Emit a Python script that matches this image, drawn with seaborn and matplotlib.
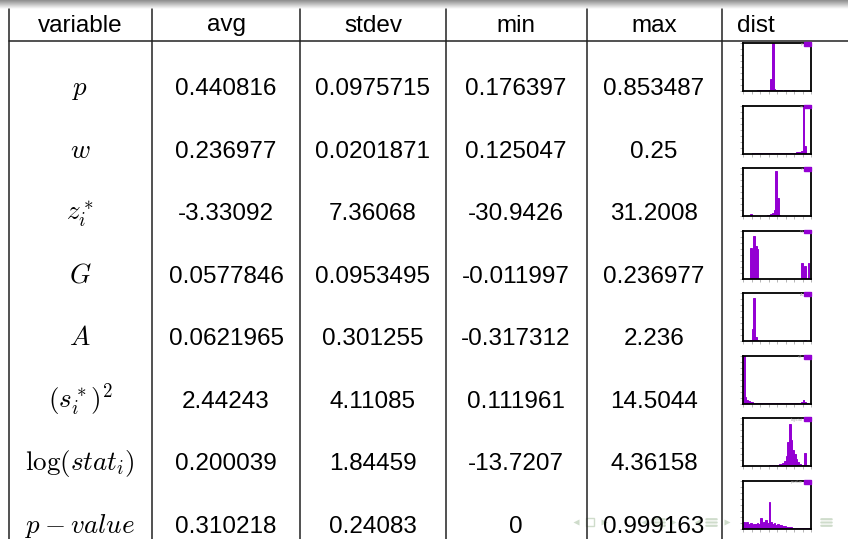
import numpy as np
import pandas as pd
import seaborn as sns
import matplotlib.pyplot as plt
from matplotlib.patches import Patch

sns.set_theme(style='white')
plt.rcParams['font.family'] = ['Liberation Sans', 'DejaVu Sans']
plt.rcParams['mathtext.fontset'] = 'cm'

# table contents
headers = ['variable', 'avg', 'stdev', 'min', 'max', 'dist']
variables = [r'$p$', r'$w$', r'$z_i^*$', r'$G$', r'$A$', r'$(s_i^*)^2$',
             r'$\log(stat_i)$', r'$p-value$']
short_names = ['p', 'w', 'z', 'G', 'A', 's2', 'logstat', 'pvalue']
avg = ['0.440816', '0.236977', '-3.33092', '0.0577846', '0.0621965',
       '2.44243', '0.200039', '0.310218']
stdev = ['0.0975715', '0.0201871', '7.36068', '0.0953495', '0.301255',
         '4.11085', '1.84459', '0.24083']
vmin = ['0.176397', '0.125047', '-30.9426', '-0.011997', '-0.317312',
        '0.111961', '-13.7207', '0']
vmax = ['0.853487', '0.25', '31.2008', '0.236977', '2.236',
        '14.5044', '4.36158', '0.999163']

# histogram bin heights (40 bins each, relative to the plot height)
hist_p = [0, 0, 0, 0, 0, 0, 1, 1, 2, 3, 3, 2, 2, 3, 2, 3, 25, 100, 4, 3,
          3, 2, 2, 1, 2, 1, 2, 1, 1, 2, 1, 1, 1, 0, 1, 0, 0, 0, 0, 0]
hist_w = [0, 0, 0, 0, 0, 1, 1, 1, 1, 1, 1, 1, 1, 1, 1, 1, 1, 1, 1, 1,
          1, 1, 1, 1, 1, 1, 1, 2, 2, 2, 2, 3, 3, 4, 5, 100, 15, 0, 0, 0]
hist_z = [0, 0, 0, 0, 5, 1, 1, 1, 1, 1, 1, 1, 1, 1, 3, 3, 4, 6, 12, 95,
          38, 3, 1, 1, 0, 0, 0, 0, 0, 0, 0, 0, 0, 0, 0, 0, 0, 0, 0, 0]
hist_G = [0, 0, 0, 0, 65, 60, 90, 68, 62, 0, 0, 0, 0, 0, 0, 0, 0, 0, 0, 0,
          0, 0, 0, 0, 0, 0, 0, 0, 0, 0, 0, 0, 0, 0, 32, 17, 27, 0, 32, 0]
hist_A = [0, 0, 0, 1, 3, 25, 90, 8, 2, 1, 1, 1, 0, 0, 0, 0, 0, 0, 0, 0,
          0, 0, 0, 0, 0, 0, 0, 0, 0, 0, 0, 0, 0, 0, 0, 1, 2, 0, 0, 0]
hist_s2 = [100, 15, 8, 5, 4, 3, 2, 2, 1, 1, 1, 1, 1, 1, 1, 1, 1, 1, 1, 1,
           1, 1, 1, 1, 1, 1, 1, 1, 1, 1, 1, 1, 1, 2, 3, 8, 4, 1, 0, 0]
hist_log = [0, 0, 0, 1, 0, 0, 0, 0, 1, 1, 1, 1, 1, 1, 1, 2, 2, 2, 3, 3,
            4, 5, 6, 8, 12, 22, 50, 88, 55, 35, 25, 15, 10, 6, 4, 3, 28, 3, 0, 0]
hist_pv = [15, 12, 14, 10, 12, 9, 10, 11, 13, 10, 22, 12, 14, 18, 12, 57, 14, 10, 12, 9,
           10, 8, 9, 7, 6, 5, 5, 4, 4, 3, 3, 3, 2, 3, 2, 2, 3, 2, 3, 2]
hists = [hist_p, hist_w, hist_z, hist_G, hist_A, hist_s2, hist_log, hist_pv]

W, H = 848, 539
fig = plt.figure(figsize=(W / 100, H / 100), dpi=100)
bg = fig.add_axes([0, 0, 1, 1])
bg.set_xlim(0, W)
bg.set_ylim(H, 0)
bg.axis('off')

# gray gradient bar at the top of the slide
grad = np.linspace(0.55, 1.0, 50).reshape(-1, 1)
bg.imshow(grad, cmap='gray', vmin=0, vmax=1, aspect='auto',
          extent=[0, W, 9, 0], zorder=0)

# table lines
col_lines = [9, 152, 300, 446, 587, 722]
for x in col_lines:
    bg.plot([x, x], [9, H], color='#222222', lw=1.1)
bg.plot([9, W], [41, 41], color='#222222', lw=1.1)

# beamer navigation symbols (faint, drawn as markers)
nav_x = [576, 590, 604, 644, 659, 673, 697, 711, 727, 750, 765, 780, 826]
nav_m = ['<', 's', '>', '<', r'$\equiv$', '>', '<', r'$\equiv$', '>',
         '<', r'$\equiv$', '>', r'$\equiv$']
for x, m in zip(nav_x, nav_m):
    if m == 's':
        bg.plot(x, 522, marker=m, ms=6, mfc='none', mec='#cfdccb', mew=1, zorder=1)
    elif m.startswith('$'):
        bg.plot(x, 522, marker=m, ms=8, color='#cfdccb', zorder=1)
    else:
        bg.plot(x, 522, marker=m, ms=4, color='#cfdccb', mec='none', zorder=1)

centers = [80, 226, 373, 516, 654]
fs = 17.5
for cx, h in zip(centers, headers[:5]):
    bg.text(cx, 31.5, h, ha='center', va='baseline', fontsize=fs, color='black')
bg.text(737, 31.5, headers[5], ha='left', va='baseline', fontsize=fs, color='black')

row_step = 62.57
for i in range(len(variables)):
    base = 95 + i * row_step
    bg.text(centers[0], base, variables[i], ha='center', va='baseline',
            fontsize=19.5, color='black', zorder=3)
    for cx, col in zip(centers[1:], [avg, stdev, vmin, vmax]):
        bg.text(cx, base, col[i], ha='center', va='baseline', fontsize=fs,
                color='black', zorder=3)

# small distribution plots
nb = 40
mids = (np.arange(nb) + 0.5) / nb
purple = '#9400d3'
for i, counts in enumerate(hists):
    top = 43 + i * row_step
    ax = fig.add_axes([743 / W, 1 - (top + 48) / H, 68 / W, 48 / H])
    d = pd.DataFrame({'x': mids, 'n': counts})
    sns.histplot(data=d, x='x', weights='n', bins=nb, binrange=(0, 1), ax=ax,
                 color=purple, alpha=1, edgecolor=purple, linewidth=0.7,
                 element='bars')
    ax.set_xlim(0, 1)
    ax.set_ylim(0, 100)
    ax.set_xlabel('')
    ax.set_ylabel('')
    ax.set_xticks(np.linspace(0, 1, 9))
    ax.set_yticks(np.linspace(0, 100, 9))
    ax.tick_params(axis='both', direction='out', length=2, width=0.5,
                   color='#999999', labelbottom=False, labelleft=False)
    ax.tick_params(left=True, bottom=True)
    for sp in ax.spines.values():
        sp.set_color('black')
        sp.set_linewidth(1.3)
    ax.legend(handles=[Patch(facecolor=purple, edgecolor=purple, label=short_names[i])],
              loc='upper right', bbox_to_anchor=(1.0, 1.02), fontsize=3,
              frameon=False, markerfirst=False, handlelength=1.6,
              handleheight=1.0, handletextpad=0.4, borderpad=0.0,
              borderaxespad=0.0, labelcolor='#aaaaaa')

fig.savefig('out.png', dpi=100)
